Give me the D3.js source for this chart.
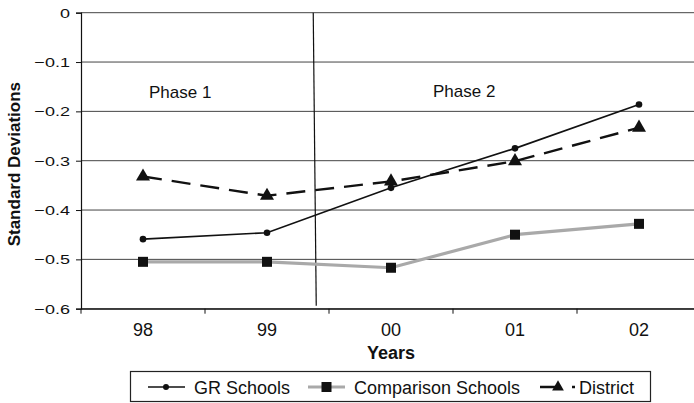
<!DOCTYPE html>
<meta charset="utf-8">
<style>
  body { margin: 0; background: #fff; }
  text { font-family: "Liberation Sans", Arial, sans-serif; fill: #111; }
</style>
<body>
  <div id="chart"></div>
  <script src="https://d3js.org/d3.v7.min.js"></script>
  <script>
    // data
    var years = ["98", "99", "00", "01", "02"];
    var grSchools = [-0.459, -0.446, -0.355, -0.275, -0.186];
    var comparisonSchools = [-0.505, -0.505, -0.517, -0.450, -0.428];
    var district = [-0.332, -0.371, -0.342, -0.301, -0.233];
    var yTicks = [0, -0.1, -0.2, -0.3, -0.4, -0.5, -0.6];
    var phaseLabels = ["Phase 1", "Phase 2"];
    var phaseBoundary = 1.385; // position between 99 and 00, in year steps

    var width = 694, height = 403;
    var margin = { top: 12.7, right: -7, bottom: 94.3, left: 81 };
    var innerW = width - margin.left - margin.right;
    var innerH = height - margin.top - margin.bottom;

    var svg = d3.select("#chart").append("svg")
      .attr("width", width)
      .attr("height", height);

    var g = svg.append("g")
      .attr("transform", "translate(" + margin.left + "," + margin.top + ")");

    var x = d3.scaleBand().domain(years).range([0, innerW]);
    var xc = function (i) { return x(years[0]) + x.bandwidth() * (i + 0.5); };
    var y = d3.scaleLinear().domain([-0.6, 0]).range([innerH, 0]);

    // gridlines
    g.selectAll(".grid")
      .data(yTicks)
      .enter().append("line")
      .attr("x1", 0).attr("x2", innerW)
      .attr("y1", d => y(d)).attr("y2", d => y(d))
      .style("stroke", "#444")
      .style("stroke-width", 1);

    // y axis
    var yAxis = g.append("g")
      .call(d3.axisLeft(y).tickValues(yTicks).tickSize(5).tickPadding(6)
        .tickFormat(d => d === 0 ? "0" : d3.format(".1f")(d)));
    yAxis.select(".domain").style("stroke", "#111").style("stroke-width", 1.2);
    yAxis.selectAll(".tick line").style("stroke", "#111");
    yAxis.selectAll(".tick text")
      .style("font-size", "18px")
      .style("font-family", "Liberation Sans, Arial, sans-serif")
      .attr("fill", "#111")
      .attr("transform", "scale(1,0.76)");

    // x axis with ticks at category edges
    var xAxis = g.append("g")
      .attr("transform", "translate(0," + innerH + ")")
      .call(d3.axisBottom(x).tickSize(0).tickPadding(15));
    xAxis.select(".domain").style("stroke", "#111").style("stroke-width", 1.2);
    xAxis.selectAll(".tick text")
      .style("font-size", "18px")
      .style("font-family", "Liberation Sans, Arial, sans-serif")
      .attr("fill", "#111");
    xAxis.selectAll(".edge")
      .data(d3.range(years.length + 1))
      .enter().append("line")
      .attr("x1", i => x.bandwidth() * i).attr("x2", i => x.bandwidth() * i)
      .attr("y1", 0).attr("y2", 5)
      .style("stroke", "#111");

    // phase boundary
    g.append("line")
      .attr("x1", xc(phaseBoundary) - 1.5).attr("x2", xc(phaseBoundary) + 1.5)
      .attr("y1", y(0)).attr("y2", y(-0.594))
      .style("stroke", "#111")
      .style("stroke-width", 1.2);

    g.selectAll(".phase")
      .data(phaseLabels)
      .enter().append("text")
      .attr("x", (d, i) => i === 0 ? xc(0) + 6 : xc(2) + 42)
      .attr("y", (d, i) => y(-0.173) - i)
      .attr("text-anchor", "start")
      .style("font-size", "17px")
      .text(d => d);

    var line = d3.line().x((d, i) => xc(i)).y(d => y(d));

    // comparison schools: thick grey line, black squares
    g.append("path").datum(comparisonSchools)
      .attr("d", line)
      .style("fill", "none")
      .style("stroke", "#a9a9a9")
      .style("stroke-width", 3.2);
    g.selectAll(".sq").data(comparisonSchools).enter().append("rect")
      .attr("x", (d, i) => xc(i) - 5).attr("y", d => y(d) - 5)
      .attr("width", 10).attr("height", 10)
      .style("fill", "#111");

    // district: dashed black, triangles
    g.append("path").datum(district)
      .attr("d", line)
      .style("fill", "none")
      .style("stroke", "#111")
      .style("stroke-width", 2.4)
      .style("stroke-dasharray", "19,10");
    var tri = d3.symbol().type(d3.symbolTriangle).size(85);
    g.selectAll(".tri").data(district).enter().append("path")
      .attr("d", tri)
      .attr("transform", (d, i) => "translate(" + xc(i) + "," + y(d) + ")")
      .style("fill", "#111");

    // GR schools: solid black, dots
    g.append("path").datum(grSchools)
      .attr("d", line)
      .style("fill", "none")
      .style("stroke", "#111")
      .style("stroke-width", 1.6);
    g.selectAll(".dot").data(grSchools).enter().append("circle")
      .attr("cx", (d, i) => xc(i)).attr("cy", d => y(d))
      .attr("r", 3.3)
      .style("fill", "#111");

    // axis titles
    svg.append("text")
      .attr("transform", "translate(20," + (margin.top + y(-0.307)) + ") rotate(-90)")
      .attr("text-anchor", "middle")
      .style("font-size", "17px")
      .style("font-weight", "bold")
      .text("Standard Deviations");

    svg.append("text")
      .attr("x", margin.left + xc(2))
      .attr("y", 359)
      .attr("text-anchor", "middle")
      .style("font-size", "18px")
      .style("font-weight", "bold")
      .text("Years");

    // legend
    var legend = svg.append("g");
    legend.append("rect")
      .attr("x", 130.5).attr("y", 371.5)
      .attr("width", 520).attr("height", 30)
      .style("fill", "#fff")
      .style("stroke", "#222")
      .style("stroke-width", 1.2);

    var items = [
      { name: "GR Schools", x: 148, color: "#111", width: 1.6, dash: null, mark: "circle" },
      { name: "Comparison Schools", x: 308, color: "#a9a9a9", width: 3.2, dash: null, mark: "square" },
      { name: "District", x: 540, color: "#111", width: 2.4, dash: "20,12,3", mark: "triangle" }
    ];
    var ly = 387;
    var li = legend.selectAll(".item").data(items).enter().append("g")
      .attr("transform", d => "translate(" + d.x + "," + ly + ")");
    li.append("line")
      .attr("x1", 0).attr("x2", 37)
      .style("stroke", d => d.color)
      .style("stroke-width", d => d.width)
      .style("stroke-dasharray", d => d.dash);
    li.filter(d => d.mark === "circle").append("circle")
      .attr("cx", 18).attr("r", 3).style("fill", "#111");
    li.filter(d => d.mark === "square").append("rect")
      .attr("x", 13.5).attr("y", -5).attr("width", 10).attr("height", 10).style("fill", "#111");
    li.filter(d => d.mark === "triangle").append("path")
      .attr("d", d3.symbol().type(d3.symbolTriangle).size(60))
      .attr("transform", "translate(18,0)")
      .style("fill", "#111");
    li.append("text")
      .attr("x", d => d.mark === "triangle" ? 39 : 46)
      .attr("y", 6.5)
      .style("font-size", "18px")
      .text(d => d.name);
  </script>
</body>
